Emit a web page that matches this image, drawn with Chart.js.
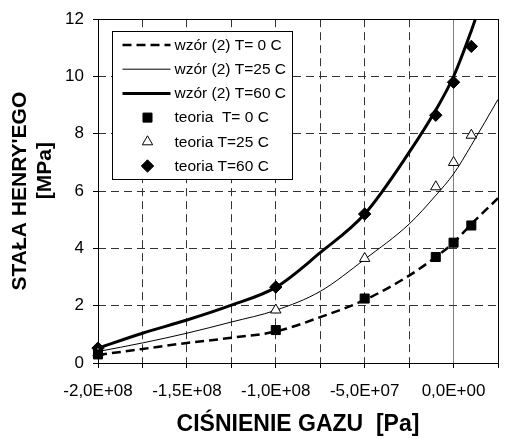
<!DOCTYPE html>
<html>
<head>
<meta charset="utf-8">
<script src="https://cdn.jsdelivr.net/npm/chart.js@4.4.1/dist/chart.umd.min.js"></script>
<style>
  body { margin: 0; background: #fff; }
  #wrap { width: 511px; height: 439px; }
</style>
</head>
<body>
<div id="wrap"><canvas id="chart" width="511" height="439"></canvas></div>
<script>
// pressure [Pa] where the fitted curves were read
const curveX = [-2e8, -1.75e8, -1.5e8, -1.25e8, -1e8, -7.5e7, -5e7, -2.5e7, -1e7, 0, 1e7, 2.5e7];
const curveT0 = [0.28, 0.49, 0.7, 0.88, 1.1, 1.6, 2.2, 3.05, 3.7, 4.2, 4.85, 5.75];
const curveT25 = [0.4, 0.7, 1.04, 1.43, 1.84, 2.5, 3.62, 4.85, 5.85, 6.6, 7.6, 9.2];
const curveX60 = [-2e8, -1.75e8, -1.5e8, -1.25e8, -1e8, -7.5e7, -5e7, -2.5e7, -1e7, 0, 1e7, 1.5e7];
const curveT60 = [0.52, 1.04, 1.5, 2.02, 2.64, 3.85, 5.2, 7.35, 8.83, 10.0, 11.6, 12.5];

// theory points
const theoryX = [-2e8, -1e8, -5e7, -1e7, 0, 1e7];
const theoryT0 = [0.3, 1.15, 2.25, 3.7, 4.2, 4.8];
const theoryT25 = [0.35, 1.85, 3.65, 6.15, 7.0, 7.95];
const theoryT60 = [0.52, 2.65, 5.2, 8.65, 9.8, 11.05];

const yTicks = [0, 2, 4, 6, 8, 10, 12];

const pts = (xs, ys) => xs.map((x, i) => ({ x: x, y: ys[i] }));

function sci(v) {
  if (v === 0) return '0,0E+00';
  const e = Math.floor(Math.log10(Math.abs(v)) + 1e-9);
  const m = v / Math.pow(10, e);
  return m.toFixed(1).replace('.', ',') + 'E' + (e < 0 ? '-' : '+') + String(Math.abs(e)).padStart(2, '0');
}

const FONT = "'Liberation Sans', Arial, sans-serif";

// white page + plot frame
const frame = {
  id: 'frame',
  beforeDraw(chart) {
    const c = chart.ctx;
    c.save();
    c.fillStyle = '#fff';
    c.fillRect(0, 0, chart.width, chart.height);
    c.restore();
  },
  beforeDatasetsDraw(chart) {
    const a = chart.chartArea, c = chart.ctx;
    c.save();
    c.strokeStyle = '#000';
    c.lineWidth = 1;
    c.strokeRect(Math.round(a.left) + 0.5, Math.round(a.top) + 0.5,
      Math.round(a.right - a.left), Math.round(a.bottom - a.top));
    c.restore();
  }
};

function marker(ctx, ds, x, y) {
  ctx.save();
  ctx.fillStyle = ds.pointBackgroundColor;
  ctx.strokeStyle = ds.pointBorderColor;
  ctx.lineWidth = ds.pointBorderWidth;
  Chart.helpers.drawPoint(ctx, { pointStyle: ds.pointStyle, radius: ds.pointRadius, borderWidth: ds.pointBorderWidth }, x, y);
  ctx.restore();
}

// legend box inside the plot
const boxLegend = {
  id: 'boxLegend',
  afterDatasetsDraw(chart) {
    const a = chart.chartArea, c = chart.ctx;
    const bx = Math.round(a.left) + 14.5, by = Math.round(a.top) + 12.5;
    c.save();
    c.fillStyle = '#fff';
    c.strokeStyle = '#000';
    c.lineWidth = 1;
    c.fillRect(bx, by, 180, 148);
    c.strokeRect(bx, by, 180, 148);
    c.font = '15.5px ' + FONT;
    c.textBaseline = 'middle';
    chart.data.datasets.forEach((ds, i) => {
      const y = by + 13.5 + i * 24.2;
      if (ds.showLine) {
        c.save();
        c.strokeStyle = ds.borderColor;
        c.lineWidth = ds.borderWidth;
        c.setLineDash(ds.borderDash || []);
        c.beginPath();
        c.moveTo(bx + 10, y);
        c.lineTo(bx + 58, y);
        c.stroke();
        c.restore();
      } else {
        marker(c, ds, bx + 35, y);
      }
      c.fillStyle = '#000';
      c.fillText(ds.label, bx + 62, y + 0.5);
    });
    c.restore();
  }
};

const lineDs = (label, xs, ys, width, dash) => ({
  label: label,
  data: pts(xs, ys),
  showLine: true,
  borderColor: '#000',
  backgroundColor: '#000',
  borderWidth: width,
  borderDash: dash,
  pointRadius: 0,
  cubicInterpolationMode: 'monotone',
  order: 1
});

const pointDs = (label, ys, style, radius, fill) => ({
  label: label,
  data: pts(theoryX, ys),
  showLine: false,
  pointStyle: style,
  pointRadius: radius,
  pointBackgroundColor: fill,
  pointBorderColor: '#000',
  pointBorderWidth: 1,
  clip: false,
  order: 0
});

new Chart(document.getElementById('chart'), {
  type: 'scatter',
  data: {
    datasets: [
      lineDs('wzór (2) T= 0 C', curveX, curveT0, 2.5, [9, 5]),
      lineDs('wzór (2) T=25 C', curveX, curveT25, 1, []),
      lineDs('wzór (2) T=60 C', curveX60, curveT60, 3, []),
      pointDs('teoria  T= 0 C', theoryT0, 'rect', 6.4, '#000'),
      pointDs('teoria T=25 C', theoryT25, 'triangle', 6, '#fff'),
      pointDs('teoria T=60 C', theoryT60, 'rectRot', 6.2, '#000')
    ]
  },
  options: {
    responsive: false,
    animation: false,
    layout: { padding: { left: 0, top: 17, right: 5, bottom: 0 } },
    plugins: { legend: { display: false }, tooltip: { enabled: false } },
    scales: {
      x: {
        type: 'linear',
        min: -2e8,
        max: 2.5e7,
        afterFit: (s) => { s.height = 76; },
        ticks: {
          stepSize: 2.5e7,
          autoSkip: false,
          maxRotation: 0,
          padding: 13,
          color: '#000',
          font: { family: FONT, size: 17 },
          callback: (v) => (v % 5e7 === 0 && v <= 0) ? sci(v) : ''
        },
        grid: {
          color: (ctx) => {
            const v = ctx.tick ? ctx.tick.value : null;
            if (v === -2e8 || v === 2.5e7) return 'rgba(0,0,0,0)';
            if (v === 0) return '#808080';
            return '#333';
          },
          lineWidth: 1,
          tickLength: 5,
          tickColor: '#000'
        },
        border: {
          display: false,
          dash: (ctx) => (ctx.tick && ctx.tick.value === 0) ? [] : [8, 5]
        },
        title: {
          display: true,
          text: 'CIŚNIENIE GAZU  [Pa]',
          color: '#000',
          font: { family: FONT, size: 23, weight: 'bold' },
          padding: { top: 0, bottom: 1 }
        }
      },
      y: {
        min: 0,
        max: 12,
        afterFit: (s) => { s.width = 98; },
        afterBuildTicks: (s) => { s.ticks = yTicks.map((v) => ({ value: v })); },
        ticks: {
          padding: 9,
          color: '#000',
          font: { family: FONT, size: 17 }
        },
        grid: {
          color: (ctx) => {
            const v = ctx.tick ? ctx.tick.value : null;
            return (v === 0 || v === 12) ? 'rgba(0,0,0,0)' : '#333';
          },
          lineWidth: 1,
          tickLength: 5,
          tickColor: '#000'
        },
        border: { display: false, dash: [8, 5] },
        title: {
          display: true,
          text: ["STAŁA HENRY'EGO", '       [MPa]'],
          color: '#000',
          font: { family: FONT, size: 21, weight: 'bold', lineHeight: 1.22 },
          padding: { top: 7, bottom: 0 }
        }
      }
    }
  },
  plugins: [frame, boxLegend]
});
</script>
</body>
</html>
